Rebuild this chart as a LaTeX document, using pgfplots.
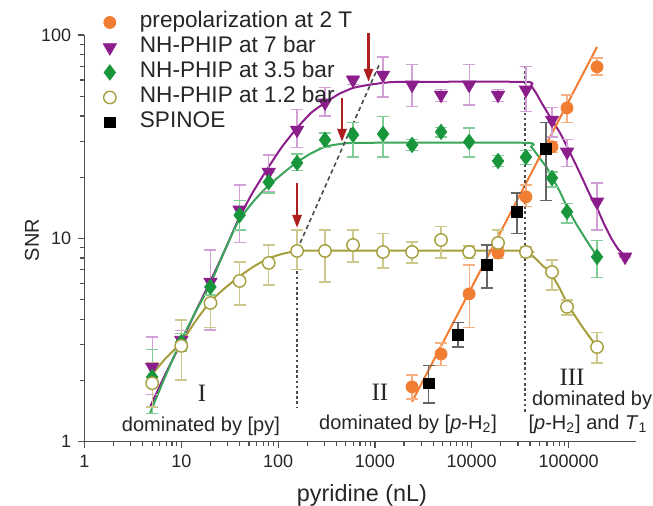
\documentclass[border=0pt]{standalone}
\usepackage{pgfplots}
\usepackage{pgfplotstable}
\pgfplotsset{compat=1.18}
\usepackage{fontspec}
\setmainfont{Liberation Sans}
\newfontfamily\romanfont{Liberation Serif}
\usetikzlibrary{arrows.meta}

\definecolor{cOrange}{RGB}{240,125,50}
\definecolor{cOrangeL}{RGB}{245,175,130}
\definecolor{cPurple}{RGB}{140,30,140}
\definecolor{cPurpleL}{RGB}{210,160,215}
\definecolor{cGreen}{RGB}{25,150,60}
\definecolor{cGreenL}{RGB}{130,205,150}
\definecolor{cOlive}{RGB}{165,158,60}
\definecolor{cOliveL}{RGB}{205,200,140}
\definecolor{cRed}{RGB}{175,30,30}
\definecolor{cAxis}{RGB}{80,80,80}

\pgfplotstableread{
x y ep em
5 2.33 0.94 0.63
10 3.16 0.35 0.36
20 6.1 2.67 2.56
40 13.8 4.5 4.3
80 21.2 4.5 4.2
157 34.1 8.9 6.1
305 46.4 8.6 6.4
594 60.1 3 3
1213 63.6 14.4 14
2420 56.8 14.5 12.5
4820 50.7 3.3 3.7
9400 56.8 14.5 11.5
18700 50.7 3.3 3.7
36300 53.7 16 11.8
67500 38.2 5.6 6.7
96500 26.6 3.9 4.1
197000 15.1 3.6 4.1
384000 8.1 0 0
}\purpledata

\pgfplotstableread{
x y ep em
5 2.08 0.75 0.70
10 3.09 0.3 0.3
20 5.77 0.5 0.5
40 13.0 2.4 2.0
80 18.9 2.1 2.2
157 23.5 2.5 2.0
305 30.5 2.5 2.5
594 32.3 4.7 7.2
1213 32.6 7.0 7.5
2420 28.8 1.7 1.8
4820 33.4 1.6 1.9
9400 29.8 5.1 4.7
18700 24.0 1.5 1.5
36300 25.1 2 2
67500 19.8 1.4 1.9
96500 13.5 1.4 1.6
197000 8.1 1.7 1.7
}\greendata

\pgfplotstableread{
x y ep em
5 1.94 0.5 0.46
10 2.96 1.01 0.95
20 4.81 0.96 1.18
40 6.17 1.48 1.47
80 7.57 1.71 1.67
157 8.67 2.33 1.67
305 8.67 2.33 2.57
594 9.28 1.72 1.63
1213 8.57 2.03 1.42
2420 8.57 1.03 1.0
4820 9.82 1.58 1.82
9400 8.57 0.6 0.6
18700 9.49 1.5 1.5
36300 8.57 0.5 0.5
67500 6.83 1.0 1.26
96500 4.6 0.38 0.4
197000 2.92 0.51 0.48
}\olivedata

\pgfplotstableread{
x y ep em
2420 1.86 0.27 0.24
4820 2.70 0.36 0.32
9400 5.33 2.07 1.7
18700 8.47 0.5 0.5
36300 16.0 2.3 1.7
67500 28.2 1.8 1.7
96500 43.8 6.9 6.8
197000 69.7 7.4 6.1
}\orangedata

\pgfplotstableread{
x y ep em
3610 1.94 0.44 0.39
7210 3.35 0.49 0.43
14400 7.4 1.88 1.7
29300 13.5 3.2 2.9
58500 27.5 9.5 12.1
}\blackdata

\begin{document}
\begin{tikzpicture}
\useasboundingbox (0,0) rectangle (326.5pt,253pt);
\begin{axis}[
  at={(42.25pt,32.15pt)}, anchor=south west,
  scale only axis, width=275.85pt, height=203.35pt,
  xmode=log, ymode=log,
  xmin=1, xmax=500000, ymin=1, ymax=100,
  axis x line*=bottom, axis y line*=left,
  axis line style={cAxis, line width=0.8pt, -},
  tick align=outside,
  major tick length=3.2pt, minor tick length=2.2pt,
  every tick/.style={cAxis, line width=0.6pt},
  xtick={1,10,100,1000,10000,100000},
  xticklabels={1,10,100,1000,10000,100000},
  ytick={1,10,100}, yticklabels={1,10,100},
  tick label style={font=\fontsize{9}{10}\selectfont, text=black!85},
  xlabel={pyridine (nL)}, ylabel={SNR},
  xlabel style={font=\fontsize{11.7}{13}\selectfont, text=black!85, at={(axis description cs:0.503,-0.131)}, anchor=center},
  ylabel style={font=\fontsize{10}{12}\selectfont, text=black!85, at={(axis description cs:-0.095,0.496)}, anchor=center},
  clip=false,
  legend style={at={(axis description cs:0.034,1.0615)}, anchor=north west, draw=none, fill=none,
    inner sep=0pt, outer sep=0pt, row sep=0pt, column sep=10.5pt,
    font=\fontsize{11.3}{13}\selectfont, text=black!85,
    nodes={inner sep=1.25pt, text height=7.5pt, text depth=2.5pt, anchor=west}},
  legend cell align=left,
  legend image code/.code={\draw[#1] plot coordinates {(0pt,0pt)};},
]
% fitted curves
\addplot[cPurple, line width=1pt, forget plot, smooth, tension=0.3] coordinates {
(4.75,1.48) (6.79,2.13) (9.93,3.06) (13.85,4.30) (19.8,6.10) (28.3,8.77) (39.5,12.6) (55.0,16.9) (78.6,22.2) (109.7,28.2) (156.7,34.9) (218.8,41.4) (305.2,46.4) (425.7,51.3) (594,54.9) (848,56.8) (1213,58.1) (1816,58.8) (36390,58.8) (40990,56.2) (46130,51.9) (51990,46.9) (59980,41.85) (67520,38.2) (81660,33.0) (96500,28.2) (116700,23.5) (141200,19.4) (166700,16.35) (197000,14.1) (232700,11.77) (274800,10.05) (324700,8.87) (383500,8.19)};
\addplot[cGreen!85, line width=1pt, forget plot, smooth, tension=0.3] coordinates {
(4.75,1.38) (6.79,2.08) (9.70,3.06) (13.85,4.30) (19.8,5.90) (27.6,8.57) (38.5,12.04) (55.0,15.1) (76.8,17.9) (109.7,20.7) (153,23.5) (213.6,26.0) (305.2,28.2) (436,29.1) (701,29.5) (36390,29.5) (40990,28.2) (46130,26.3) (51990,24.3) (59980,22.2) (67520,20.0) (81660,16.9) (96500,14.27) (116700,12.04) (141200,10.4) (166700,9.18) (197000,8.19)};
\addplot[cOlive, line width=1pt, forget plot, smooth, tension=0.3] coordinates {
(4.75,2.08) (6.79,2.55) (9.93,3.06) (13.85,3.88) (19.8,4.87) (28.3,5.70) (40.4,6.53) (55.0,7.23) (76.8,7.92) (109.7,8.38) (156.7,8.67) (240.6,8.7) (33880,8.7) (40000,8.38) (47280,7.83) (54530,7.31) (64420,6.83) (81660,5.64) (98800,4.70) (141200,3.63) (197000,2.92)};
\addplot[cOrange, line width=1pt, forget plot] coordinates {(2416,1.57) (197000,87.4)};
% guide lines
\addplot[black!70, line width=0.8pt, dash pattern=on 2.2pt off 1.6pt, forget plot] coordinates {(157,8.77) (1129,72.9)};
\addplot[black!70, line width=0.7pt, dash pattern=on 1.3pt off 1.3pt, forget plot] coordinates {(157,8.7) (157,1.47)};
\addplot[black!70, line width=0.7pt, dash pattern=on 1.3pt off 1.3pt, forget plot] coordinates {(35500,70.5) (35500,1.38)};
% data
\addplot[only marks, mark=*, mark size=3pt, color=cOrange,
  error bars/.cd, y dir=both, y explicit,
  error bar style={cOrangeL, line width=0.6pt},
  error mark options={rotate=90, cOrangeL, mark size=3pt, line width=0.6pt}]
  table[x=x, y=y, y error plus=ep, y error minus=em] {\orangedata};
\addlegendentry{prepolarization at 2 T}
\addplot[only marks, mark=triangle*, mark size=3.8pt, color=cPurple, mark options={rotate=180},
  error bars/.cd, y dir=both, y explicit,
  error bar style={cPurpleL, line width=0.6pt},
  error mark options={rotate=90, cPurpleL, mark size=3pt, line width=0.6pt}]
  table[x=x, y=y, y error plus=ep, y error minus=em] {\purpledata};
\addlegendentry{NH-PHIP at 7 bar}
\addplot[only marks, mark=diamond*, mark size=3.8pt, color=cGreen,
  error bars/.cd, y dir=both, y explicit,
  error bar style={cGreenL, line width=0.6pt},
  error mark options={rotate=90, cGreenL, mark size=3pt, line width=0.6pt}]
  table[x=x, y=y, y error plus=ep, y error minus=em] {\greendata};
\addlegendentry{NH-PHIP at 3.5 bar}
\addplot[only marks, mark=*, mark size=3.1pt, color=cOlive, mark options={fill=white, line width=0.7pt},
  error bars/.cd, y dir=both, y explicit,
  error bar style={cOliveL, line width=0.6pt},
  error mark options={rotate=90, cOliveL, mark size=3pt, line width=0.6pt}]
  table[x=x, y=y, y error plus=ep, y error minus=em] {\olivedata};
\addlegendentry{NH-PHIP at 1.2 bar}
\addplot[only marks, mark=square*, mark size=2.6pt, color=black,
  error bars/.cd, y dir=both, y explicit,
  error bar style={black!60, line width=0.6pt},
  error mark options={rotate=90, black!60, mark size=3pt, line width=0.6pt}]
  table[x=x, y=y, y error plus=ep, y error minus=em] {\blackdata};
\addlegendentry{SPINOE}
% arrows
\draw[cRed, line width=1.3pt, -{Triangle[width=4.5pt,length=6.5pt]}] (axis cs:859,102) -- (axis cs:859,58.8);
\draw[cRed, line width=1.3pt, -{Triangle[width=4.5pt,length=6.5pt]}] (axis cs:457,49) -- (axis cs:457,29.8);
\draw[cRed, line width=1.3pt, -{Triangle[width=4.5pt,length=6.5pt]}] (axis cs:157,18.7) -- (axis cs:157,11.25);
% annotations
\node[anchor=base, font=\romanfont\fontsize{12.5}{14}\selectfont, text=black!85] at (rel axis cs:0.213,0.098) {I};
\node[anchor=base, font=\romanfont\fontsize{12.5}{14}\selectfont, text=black!85] at (rel axis cs:0.5356,0.1025) {II};
\node[anchor=base, font=\romanfont\fontsize{12.5}{14}\selectfont, text=black!85] at (rel axis cs:0.8836,0.139) {III};
\node[anchor=base, font=\fontsize{10}{12}\selectfont, text=black!85, inner sep=0pt] at (rel axis cs:0.211,0.024) {dominated by [py]};
\node[anchor=base, font=\fontsize{10}{12}\selectfont, text=black!85, inner sep=0pt] at (rel axis cs:0.5864,0.029) {dominated by [\textit{p}-H\textsubscript{2}]};
\node[anchor=base, font=\fontsize{10}{12}\selectfont, text=black!85, inner sep=0pt] at (rel axis cs:0.92,0.09) {dominated by};
\node[anchor=base, font=\fontsize{10}{12}\selectfont, text=black!85, inner sep=0pt] at (rel axis cs:0.9126,0.029) {[\textit{p}-H\textsubscript{2}] and \textit{T}\textsubscript{1}};
\end{axis}
\end{tikzpicture}
\end{document}
